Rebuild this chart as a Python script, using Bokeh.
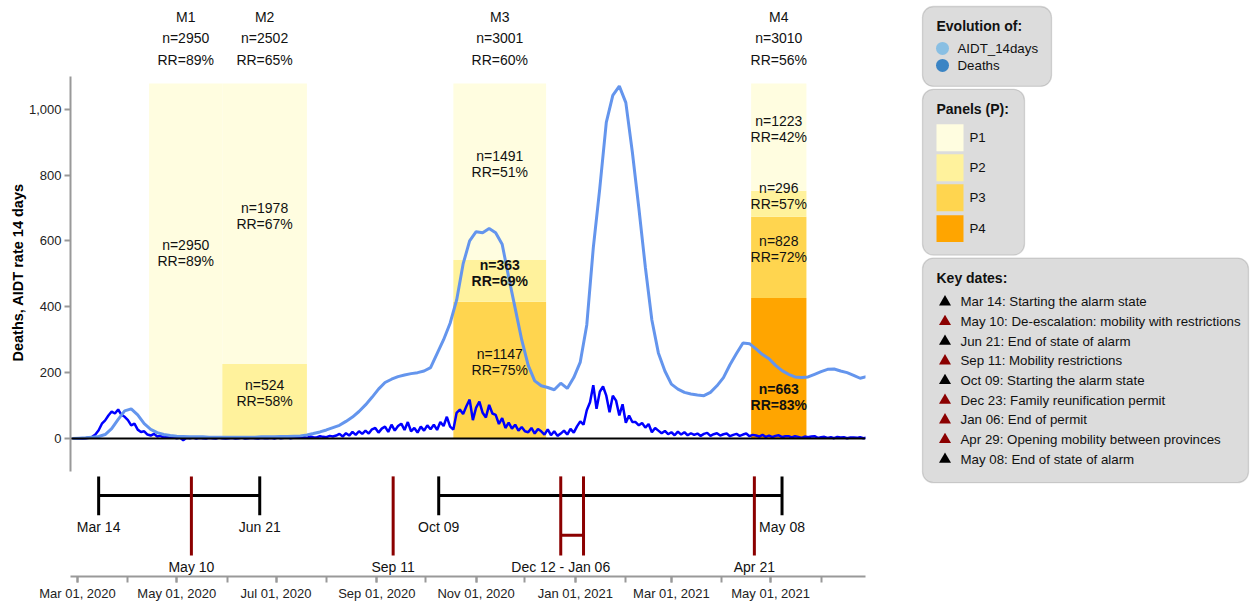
import pandas as pd
from bokeh.plotting import figure
from bokeh.layouts import row
from bokeh.models import (Range1d, LinearAxis, FixedTicker, NumeralTickFormatter,
                          DatetimeTickFormatter, Span, BoxAnnotation, ColumnDataSource, Title)
from bokeh.core.properties import value
from bokeh.embed import file_html
from bokeh.resources import INLINE

FONT = "Liberation Sans"

# ------------------------------------------------------------------ data
AIDT_START = "2020-02-27"          # one reading every 4 days
aidt_14days = [
    0, 1, 2, 4, 6, 12, 30, 58, 84, 90,
    72, 45, 28, 18, 12, 9, 7, 6, 5, 5,
    5, 4, 4, 4, 4, 4, 4, 4, 4, 5,
    5, 5, 6, 6, 7, 8, 11, 15, 20, 26,
    33, 40, 52, 65, 82, 102, 125, 150, 170, 180,
    188, 193, 197, 200, 205, 215, 258, 300, 350, 420,
    530, 600, 628, 625, 638, 625, 590, 490, 395, 300,
    222, 175, 160, 155, 148, 168, 152, 185, 232, 345,
    579, 760, 960, 1042, 1070, 1020, 870, 700, 520, 360,
    260, 205, 165, 150, 140, 135, 132, 130, 140, 160,
    185, 224, 258, 290, 288, 272, 255, 242, 222, 206,
    195, 187, 185, 187, 195, 203, 210, 211, 205, 200,
    192, 183, 188,
]

DEATHS_START = "2020-02-27"        # one reading every 2 days
deaths = [
    0, 0, 0, 0, 1, 2, 5, 12, 25, 45,
    55, 70, 82, 76, 88, 72, 66, 56, 40, 45,
    27, 20, 22, 12, 9, 14, 6, 8, 3, 5,
    2, 4, 1, 3, -5, 2, 1, 3, 0, 2,
    1, 0, 2, 1, 0, 3, 1, 0, 1, 2,
    0, 1, 3, 0, 1, 2, 1, 0, 2, 1,
    1, 2, 0, 3, 1, 2, 4, 1, 3, 2,
    3, 5, 2, 6, 4, 3, 7, 5, 4, 8,
    6, 9, 14, 6, 16, 9, 20, 11, 22, 14,
    24, 15, 28, 32, 18, 30, 36, 20, 42, 24,
    38, 45, 26, 50, 22, 32, 18, 36, 24, 40,
    28, 42, 26, 50, 38, 66, 36, 27, 78, 88,
    74, 98, 118, 56, 94, 112, 78, 64, 102, 76,
    72, 44, 62, 32, 48, 30, 42, 24, 35, 22,
    19, 32, 15, 29, 22, 12, 28, 10, 22, 8,
    15, 24, 12, 29, 18, 37, 52, 42, 86, 110,
    162, 90, 142, 158, 130, 80, 130, 115, 70, 104,
    48, 70, 50, 50, 40, 47, 33, 44, 19, 32,
    24, 16, 23, 13, 19, 10, 21, 12, 19, 10,
    16, 11, 15, 8, 14, 17, 8, 13, 16, 9,
    13, 15, 7, 11, 14, 8, 12, 15, 7, 11,
    9, 6, 11, 5, 9, 4, 8, 10, 4, 7,
    7, 3, 7, 5, 2, 6, 4, 6, 7, 2,
    4, 5, 2, 4, 1, 5, 3, 4, 1, 3,
    3, 2, 4, 1, 3,
]

months = ["M1", "M2", "M3", "M4"]
month_start = ["2020-04-14", "2020-05-29", "2020-10-18", "2021-04-19"]
month_end = ["2020-05-29", "2020-07-20", "2020-12-14", "2021-05-23"]
month_n = [2950, 2502, 3001, 3010]
month_rr = [89, 65, 60, 56]

seg_month = ["M1", "M2", "M2", "M3", "M3", "M3", "M4", "M4", "M4", "M4"]
seg_panel = ["P1", "P2", "P1", "P3", "P2", "P1", "P4", "P3", "P2", "P1"]
seg_n = [2950, 524, 1978, 1147, 363, 1491, 663, 828, 296, 1223]
seg_rr = [89, 58, 67, 75, 69, 51, 83, 72, 57, 42]
seg_bottom = [0, 0, 226, 0, 415, 542, 0, 427, 673, 752]
seg_top = [1078, 226, 1078, 415, 542, 1078, 427, 673, 752, 1078]

panels = ["P1", "P2", "P3", "P4"]
panel_colors = ["#FFFDE0", "#FFF29C", "#FFD54F", "#FFA500"]

alarm_dates = ["2020-03-14", "2020-06-21", "2020-10-09", "2021-05-08"]
alarm_labels = ["Mar 14", "Jun 21", "Oct 09", "May 08"]
alarm_periods = [("2020-03-14", "2020-06-21"), ("2020-10-09", "2021-05-08")]
mobility_dates = ["2020-05-10", "2020-09-11", "2020-12-23", "2021-01-06", "2021-04-21"]
mobility_label_dates = ["2020-05-10", "2020-09-11", "2020-12-23", "2021-04-21"]
mobility_labels = ["May 10", "Sep 11", "Dec 12 - Jan 06", "Apr 21"]
permit_period = ("2020-12-23", "2021-01-06")

key_dates = [
    ("Mar 14: Starting the alarm state", "black"),
    ("May 10: De-escalation: mobility with restrictions", "red"),
    ("Jun 21: End of state of alarm", "black"),
    ("Sep 11: Mobility restrictions", "red"),
    ("Oct 09: Starting the alarm state", "black"),
    ("Dec 23: Family reunification permit", "red"),
    ("Jan 06: End of permit", "red"),
    ("Apr 29: Opening mobility between provinces", "red"),
    ("May 08: End of state of alarm", "black"),
]

# ------------------------------------------------------------------ layout constants
DARKRED = "#8B0000"
AXIS_GREY = "#999999"
seg_label_y = [539, 113, 652, 207, 478, 810, 103, 550, 712, 915]
seg_bold = [False, False, False, False, True, False, True, False, False, False]
TL_BAR_Y, TL_TICK_TOP, TL_TICK_BOT, TL_RED_BOT = -173, -115, -233, -355
TL_LINK_Y, TL_BLACK_LAB, TL_RED_LAB = -294, -270, -391

aidt_dates = pd.date_range(AIDT_START, periods=len(aidt_14days), freq="4D")
death_dates = pd.date_range(DEATHS_START, periods=len(deaths), freq="2D")
ts = pd.to_datetime

# ------------------------------------------------------------------ main figure
p = figure(width=870, height=603, x_axis_type="datetime",
           x_range=Range1d(pd.Timestamp("2020-02-25 16:48"), pd.Timestamp("2021-06-28 07:12")),
           y_range=Range1d(-419, 1330),
           output_backend="svg", toolbar_location=None,
           min_border_left=70, min_border_right=5, min_border_top=0, min_border_bottom=0,
           y_axis_location=None, outline_line_color=None)
p.grid.visible = False

# x axis
major = pd.date_range("2020-03-01", "2021-05-01", freq="2MS")
minor = pd.date_range("2020-03-01", "2021-06-01", freq="MS")
xa = p.xaxis[0]
xa.ticker = FixedTicker(ticks=[t.value / 1e6 for t in major],
                        minor_ticks=[t.value / 1e6 for t in minor])
fmt = "%b %d, %Y"
xa.formatter = DatetimeTickFormatter(microseconds=fmt, milliseconds=fmt, seconds=fmt, minsec=fmt,
                                     minutes=fmt, hourmin=fmt, hours=fmt, days=fmt,
                                     months=fmt, years=fmt)
xa.axis_line_color = AXIS_GREY
xa.axis_line_width = 2
xa.major_tick_line_color = AXIS_GREY
xa.minor_tick_line_color = AXIS_GREY
xa.major_tick_line_width = 2
xa.minor_tick_line_width = 2
xa.major_tick_in = 0
xa.minor_tick_in = 0
xa.major_tick_out = 6
xa.minor_tick_out = 6
xa.major_label_standoff = 3
xa.major_label_text_font = FONT
xa.major_label_text_font_size = "13px"
xa.major_label_text_color = "#222222"

# y axis
ya = LinearAxis(bounds=(-100, 1100),
                ticker=FixedTicker(ticks=[0, 200, 400, 600, 800, 1000]),
                formatter=NumeralTickFormatter(format="0,0"))
ya.axis_line_color = AXIS_GREY
ya.axis_line_width = 2
ya.major_tick_line_color = AXIS_GREY
ya.major_tick_line_width = 2
ya.major_tick_in = 0
ya.major_tick_out = 6
ya.minor_tick_line_color = None
ya.major_label_text_font = FONT
ya.major_label_text_font_size = "13px"
ya.major_label_text_color = "#222222"
ya.major_label_standoff = 3
p.add_layout(ya, "left")

# y axis title, placed along the drawn axis extent
p.add_layout(Title(text="Deaths, AIDT rate 14 days", align="left", offset=215,
                   text_font=FONT, text_font_size="14.5px", text_font_style="bold",
                   text_color="#000000", standoff=0), "left")

# panel bars
m_left = {m: ts(s) for m, s in zip(months, month_start)}
m_right = {m: ts(e) for m, e in zip(months, month_end)}
pcol = dict(zip(panels, panel_colors))
seg_src = ColumnDataSource(dict(
    left=[m_left[m] for m in seg_month], right=[m_right[m] for m in seg_month],
    bottom=seg_bottom, top=seg_top, color=[pcol[q] for q in seg_panel]))
p.quad(left="left", right="right", bottom="bottom", top="top", source=seg_src,
       fill_color="color", line_color=None)

# zero line
p.add_layout(Span(location=0, dimension="width", line_color="black", line_width=2, level="glyph"))

# series
p.line(death_dates, deaths, line_color="#0000FF", line_width=2.5)
p.line(aidt_dates, aidt_14days, line_color="#6495ED", line_width=3)

# labels inside bars
for bold in (False, True):
    idx = [i for i in range(len(seg_n)) if seg_bold[i] == bold]
    xs = [m_left[seg_month[i]] + (m_right[seg_month[i]] - m_left[seg_month[i]]) / 2 for i in idx]
    ys = [seg_label_y[i] for i in idx]
    style = "bold" if bold else "normal"
    p.text(xs, ys, text=[f"n={seg_n[i]}" for i in idx], y_offset=-16,
           text_align="center", text_baseline="middle", text_font=value(FONT),
           text_font_size="14px", text_font_style=style, text_color="#111111")
    p.text(xs, ys, text=[f"RR={seg_rr[i]}%" for i in idx], y_offset=0,
           text_align="center", text_baseline="middle", text_font=value(FONT),
           text_font_size="14px", text_font_style=style, text_color="#111111")

# headers above bars
mx = [m_left[m] + (m_right[m] - m_left[m]) / 2 for m in months]
top_y = [max(t for t, mm in zip(seg_top, seg_month) if mm == m) for m in months]
for txt, off in ((months, -66), ([f"n={n}" for n in month_n], -45),
                 ([f"RR={r}%" for r in month_rr], -23)):
    p.text(mx, top_y, text=txt, y_offset=off, text_align="center", text_baseline="middle",
           text_font=value(FONT), text_font_size="14px", text_color="#111111")

# timeline of key dates
p.segment(x0=[ts(a) for a, b in alarm_periods], x1=[ts(b) for a, b in alarm_periods],
          y0=TL_BAR_Y, y1=TL_BAR_Y, line_color="black", line_width=3)
ad = [ts(d) for d in alarm_dates]
p.segment(x0=ad, x1=ad, y0=TL_TICK_TOP, y1=TL_TICK_BOT, line_color="black", line_width=3)
md = [ts(d) for d in mobility_dates]
p.segment(x0=md, x1=md, y0=TL_TICK_TOP, y1=TL_RED_BOT, line_color=DARKRED, line_width=3)
p.segment(x0=[ts(permit_period[0])], x1=[ts(permit_period[1])], y0=TL_LINK_Y, y1=TL_LINK_Y,
          line_color=DARKRED, line_width=3)
p.text(ad, [TL_BLACK_LAB] * len(ad), text=alarm_labels, text_align="center",
       text_baseline="middle", text_font=value(FONT), text_font_size="14px", text_color="#111111")
p.text([ts(d) for d in mobility_label_dates], [TL_RED_LAB] * len(mobility_label_dates),
       text=mobility_labels, text_align="center", text_baseline="middle",
       text_font=value(FONT), text_font_size="14px", text_color="#111111")

# ------------------------------------------------------------------ legend panel
# frame of this panel spans the top 577 px (same as the main plot frame)
H = 577
lg = figure(width=380, height=603, x_range=Range1d(870, 1250), y_range=Range1d(0, H),
            output_backend="svg", toolbar_location=None, min_border=0,
            min_border_bottom=603 - H,
            x_axis_location=None, y_axis_location=None, outline_line_color=None)
lg.grid.visible = False


def box(l, r, t, b):
    lg.add_layout(BoxAnnotation(left=l, right=r, top=H - t, bottom=H - b,
                                fill_color="#DCDCDC", fill_alpha=1.0,
                                line_color="#858585", line_width=1.3,
                                border_radius=11, level="underlay"))


def ltext(x, y, txt, size="13.3px", style="normal"):
    lg.text(x, [H - v for v in y], text=txt, text_align="left", text_baseline="middle",
            text_font=value(FONT), text_font_size=size, text_font_style=style,
            text_color="#111111")


box(922, 1051, 6, 86)
ltext([936], [26], ["Evolution of:"], "14px", "bold")
lg.scatter([942, 942], [H - 48, H - 65], size=13, fill_color=["#89BFE3", "#3A84C4"], line_color=None)
ltext([957, 957], [48, 65], ["AIDT_14days", "Deaths"])

box(922, 1024, 89, 255)
ltext([936], [109], ["Panels (P):"], "14px", "bold")
sw_top = [124, 154, 184, 215]
lg.quad(left=936, right=963, top=[H - t for t in sw_top], bottom=[H - t - 27 for t in sw_top],
        fill_color=panel_colors, line_color=None)
ltext([969] * 4, [t + 13.5 for t in sw_top], panels)

box(922, 1248, 258, 483)
ltext([936], [278], ["Key dates:"], "14px", "bold")
ky = [302 + 19.7 * i for i in range(len(key_dates))]
lg.scatter([944.5] * len(ky), [H - v for v in ky], marker="triangle", size=12,
           fill_color=["black" if c == "black" else DARKRED for _, c in key_dates], line_color=None)
ltext([960] * len(ky), ky, [t for t, _ in key_dates])

layout = row(p, lg)
open("out.html", "w").write(file_html(layout, INLINE))
